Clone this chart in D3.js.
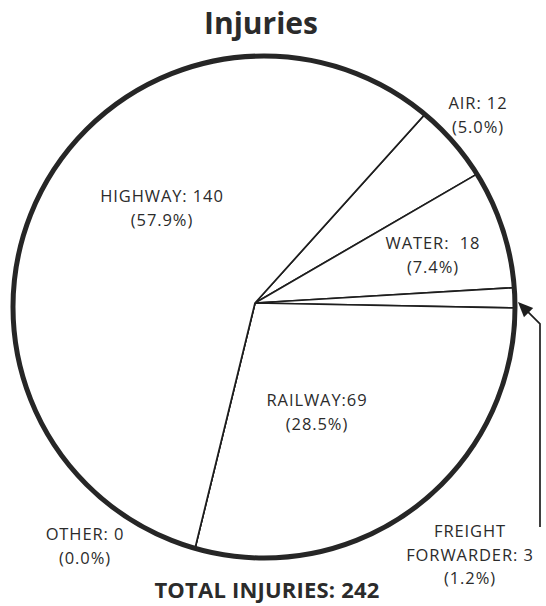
<!DOCTYPE html>
<html>
<head>
<meta charset="utf-8">
<script src="https://cdn.jsdelivr.net/npm/d3@7"></script>
<style>
  html, body { margin: 0; padding: 0; background: #fff; }
  svg { display: block; }
  text { font-family: "Open Sans", "Noto Sans", sans-serif; fill: #2b2b2b; }
</style>
</head>
<body>
<svg id="chart" width="546" height="606"></svg>
<script>
// Injuries by transport mode (clockwise order around the pie)
const categories = ["AIR", "WATER", "FREIGHT FORWARDER", "RAILWAY", "OTHER", "HIGHWAY"];
const values     = [12, 18, 3, 69, 0, 140];
const title      = "Injuries";
const totalLabel = "TOTAL INJURIES: ";

const W = 546, H = 606;
const svg = d3.select("#chart");

// Outer ring geometry and the point where the slice edges meet
const ring = { cx: 264, cy: 307, r: 251 };
const hub  = { x: 255, y: 303 };

const total = d3.sum(values);
const pct = d3.format(".1f");

const start = 42 * Math.PI / 180;
const pie = d3.pie()
  .sort(null)
  .value(d => d.value)
  .startAngle(start)
  .endAngle(start + 2 * Math.PI);

const data = categories.map((c, i) => ({ name: c, value: values[i] }));
const arcs = pie(data);

// Slices reach past the ring and are clipped to its inside
const arc = d3.arc().innerRadius(0).outerRadius(400);

svg.append("clipPath").attr("id", "ringClip")
  .append("circle")
  .attr("cx", ring.cx).attr("cy", ring.cy).attr("r", ring.r);

svg.append("g")
  .attr("clip-path", "url(#ringClip)")
  .append("g")
  .attr("transform", `translate(${hub.x},${hub.y})`)
  .selectAll("path")
  .data(arcs)
  .join("path")
  .attr("d", arc)
  .attr("fill", "#fff")
  .attr("stroke", "#1e1e1e")
  .attr("stroke-width", 1.7)
  .attr("stroke-linejoin", "round");

svg.append("circle")
  .attr("cx", ring.cx).attr("cy", ring.cy).attr("r", ring.r)
  .attr("fill", "none")
  .attr("stroke", "#262626")
  .attr("stroke-width", 5);

// Title
svg.append("text")
  .attr("x", 261).attr("y", 34)
  .attr("text-anchor", "middle")
  .attr("font-size", 30)
  .attr("font-weight", 700)
  .text(title);

// Slice labels: name/value line(s) followed by the share of the total
const labelLayout = {
  "HIGHWAY":           { x: 162, y: 202, lines: d => [`HIGHWAY: ${d.value}`] },
  "AIR":               { x: 478, y: 109, lines: d => [`AIR: ${d.value}`] },
  "WATER":             { x: 433, y: 249, lines: d => [`WATER:\u00a0 ${d.value}`] },
  "RAILWAY":           { x: 317, y: 406, lines: d => [`RAILWAY:${d.value}`] },
  "OTHER":             { x: 85,  y: 540, lines: d => [`OTHER: ${d.value}`] },
  "FREIGHT FORWARDER": { x: 470, y: 537, lines: d => ["FREIGHT", `FORWARDER: ${d.value}`] }
};
const lineGap = 23.5;

const labels = svg.append("g")
  .attr("font-size", 16.5)
  .attr("font-weight", 500)
  .attr("letter-spacing", 0.9);
arcs.forEach(a => {
  const L = labelLayout[a.data.name];
  const rows = L.lines(a.data).concat([`(${pct(a.data.value / total * 100)}%)`]);
  const t = labels.append("text")
    .attr("text-anchor", "middle");
  rows.forEach((row, i) => {
    t.append("tspan")
      .attr("x", L.x)
      .attr("y", L.y + i * lineGap)
      .text(row);
  });
});

// Pointer from the freight-forwarder label up to its thin slice
const fa = arcs.find(a => a.data.name === "FREIGHT FORWARDER");
const mid = (fa.startAngle + fa.endAngle) / 2;
const tip = [ring.cx + (ring.r + 3) * Math.sin(mid), ring.cy - (ring.r + 3) * Math.cos(mid)];
const corner = [540, tip[1] + 22];
svg.append("path")
  .attr("d", d3.line()([[540, 527], corner, [tip[0] + 6, tip[1] + 6]]))
  .attr("fill", "none")
  .attr("stroke", "#1e1e1e")
  .attr("stroke-width", 1.7);

const ang = Math.atan2(corner[1] - tip[1], corner[0] - tip[0]);
const headLen = 15, headW = 6.5;
const bx = tip[0] + headLen * Math.cos(ang), by = tip[1] + headLen * Math.sin(ang);
svg.append("path")
  .attr("d", d3.line()([
    tip,
    [bx + headW * Math.sin(ang), by - headW * Math.cos(ang)],
    [bx - headW * Math.sin(ang), by + headW * Math.cos(ang)]
  ]) + "Z")
  .attr("fill", "#1e1e1e");

// Total
svg.append("text")
  .attr("x", 267).attr("y", 598)
  .attr("text-anchor", "middle")
  .attr("font-size", 22)
  .attr("font-weight", 700)
  .attr("letter-spacing", 0.2)
  .text(totalLabel + total);
</script>
</body>
</html>
